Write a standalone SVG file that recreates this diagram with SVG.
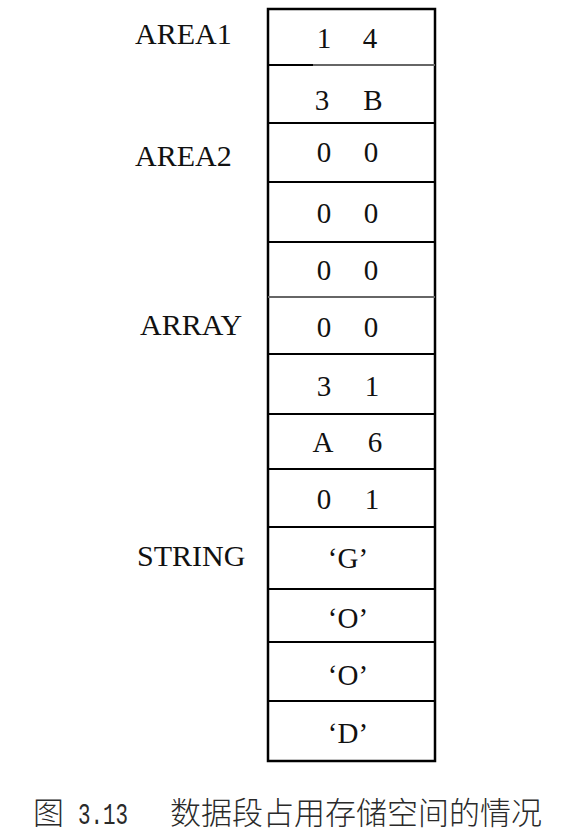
<svg xmlns="http://www.w3.org/2000/svg" width="570" height="836" viewBox="0 0 570 836">
<style>
.cell{fill:#fff;stroke:#000;stroke-width:2.5}
.sep{stroke:#000;stroke-width:2.2}
.sepg{stroke:#666;stroke-width:2}
.t{font-family:"Liberation Serif","Times New Roman",serif;font-size:29px;fill:#111;text-anchor:middle}
.lab{font-family:"Liberation Serif","Times New Roman",serif;font-size:30px;fill:#111}
.cap{font-family:"Noto Sans CJK SC","Noto Sans CJK JP",sans-serif;font-size:31px;fill:#2a2a2a;font-weight:300}
.capn{font-family:"Liberation Mono","DejaVu Sans Mono",monospace;font-size:30px;fill:#2a2a2a}
</style>
<rect x="0" y="0" width="570" height="836" fill="#fff"/>
<g id="memory">
<rect class="cell" x="268" y="9" width="167" height="752"/>
</g>
<g id="connectors">
<line class="sep" x1="268" y1="65" x2="313" y2="65"/>
<line class="sepg" x1="313" y1="65" x2="435" y2="65"/>
<line class="sep" x1="268" y1="123" x2="435" y2="123"/>
<line class="sep" x1="268" y1="182" x2="435" y2="182"/>
<line class="sep" x1="268" y1="242" x2="435" y2="242"/>
<line class="sepg" x1="268" y1="297" x2="435" y2="297"/>
<line class="sep" x1="268" y1="354" x2="435" y2="354"/>
<line class="sep" x1="268" y1="414" x2="435" y2="414"/>
<line class="sep" x1="268" y1="469" x2="435" y2="469"/>
<line class="sep" x1="268" y1="527" x2="435" y2="527"/>
<line class="sep" x1="268" y1="589" x2="435" y2="589"/>
<line class="sep" x1="268" y1="642" x2="435" y2="642"/>
<line class="sep" x1="268" y1="701" x2="435" y2="701"/>
</g>
<g id="cell1"><text class="t" x="324" y="48">1</text><text class="t" x="370" y="48">4</text></g>
<g id="cell2"><text class="t" x="322" y="110">3</text><text class="t" x="373" y="110">B</text></g>
<g id="cell3"><text class="t" x="324" y="162">0</text><text class="t" x="371" y="162">0</text></g>
<g id="cell4"><text class="t" x="324" y="223">0</text><text class="t" x="371" y="223">0</text></g>
<g id="cell5"><text class="t" x="324" y="280">0</text><text class="t" x="371" y="280">0</text></g>
<g id="cell6"><text class="t" x="324" y="337">0</text><text class="t" x="371" y="337">0</text></g>
<g id="cell7"><text class="t" x="324" y="396">3</text><text class="t" x="372" y="396">1</text></g>
<g id="cell8"><text class="t" x="323" y="452">A</text><text class="t" x="375" y="452">6</text></g>
<g id="cell9"><text class="t" x="324" y="509">0</text><text class="t" x="372" y="509">1</text></g>
<g id="cell10"><text class="t" x="348" y="568">‘G’</text></g>
<g id="cell11"><text class="t" x="348" y="628">‘O’</text></g>
<g id="cell12"><text class="t" x="348" y="685">‘O’</text></g>
<g id="cell13"><text class="t" x="348" y="743">‘D’</text></g>
<g id="labels">
<text class="lab" x="135" y="44">AREA1</text>
<text class="lab" x="135" y="166">AREA2</text>
<text class="lab" x="140" y="335">ARRAY</text>
<text class="lab" x="137" y="566">STRING</text>
</g>
<g id="caption">
<text class="cap" x="33" y="824">图</text>
<text class="capn" x="78" y="824" textLength="50" lengthAdjust="spacingAndGlyphs">3.13</text>
<text class="cap" x="170" y="824">数据段占用存储空间的情况</text>
</g>
</svg>
